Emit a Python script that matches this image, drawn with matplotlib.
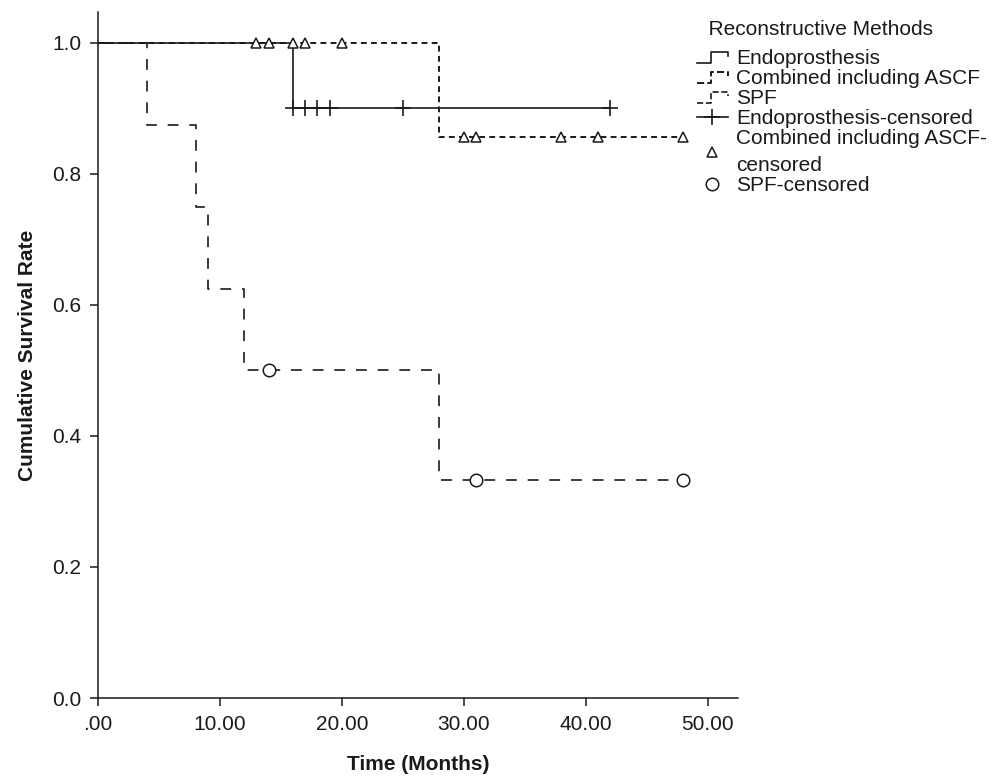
import numpy as np
import matplotlib
matplotlib.use("Agg")
import matplotlib.pyplot as plt
from matplotlib.lines import Line2D
from matplotlib.legend_handler import HandlerBase

plt.rcParams['font.family'] = ['Liberation Sans', 'DejaVu Sans']

# Kaplan-Meier steps
endo_t = [0, 16, 42]
endo_s = [1.0, 0.9, 0.9]
comb_t = [0, 28, 48]
comb_s = [1.0, 0.857, 0.857]
spf_t = [0, 4, 8, 9, 12, 28, 48]
spf_s = [1.0, 0.875, 0.75, 0.625, 0.5, 0.333, 0.333]

# censored observations
endo_cens_t = [16, 17, 18, 19, 25, 42]
endo_cens_s = [0.9, 0.9, 0.9, 0.9, 0.9, 0.9]
comb_cens_t = [13, 14, 16, 17, 20, 30, 31, 38, 41, 48]
comb_cens_s = [1.0, 1.0, 1.0, 1.0, 1.0, 0.857, 0.857, 0.857, 0.857, 0.857]
spf_cens_t = [14, 31, 48]
spf_cens_s = [0.5, 0.333, 0.333]

x_ticks = [0, 10, 20, 30, 40, 50]
x_labels = ['.00', '10.00', '20.00', '30.00', '40.00', '50.00']
y_ticks = [0.0, 0.2, 0.4, 0.6, 0.8, 1.0]

INK = '#1a1a1a'
FS = 15


class StepHandler(HandlerBase):
    # little SPSS-style step symbol in the legend
    def create_artists(self, legend, orig_handle, xdescent, ydescent,
                       width, height, fontsize, trans):
        lo = height * 0.05 - ydescent
        hi = height * 0.85 - ydescent
        xs = np.array([0, 0.45, 0.45, 1.0, 1.0]) * width - xdescent
        ys = np.array([lo, lo, hi, hi, hi - height * 0.3])
        ln = Line2D(xs, ys, color=orig_handle.get_color(),
                    linestyle=orig_handle.get_linestyle(),
                    linewidth=orig_handle.get_linewidth(), transform=trans)
        return [ln]


fig = plt.figure(figsize=(10.07, 7.76), dpi=100)
ax = fig.add_axes([0.0973, 0.1005, 0.6356, 0.884])

h_endo, = ax.step(endo_t, endo_s, where='post', color=INK, lw=1.2, linestyle='-')
h_comb, = ax.step(comb_t, comb_s, where='post', color=INK, lw=1.4, linestyle=(0, (3, 2.2)))
h_spf, = ax.step(spf_t, spf_s, where='post', color=INK, lw=1.2, linestyle=(0, (6.5, 6.5)))

h_endo_c, = ax.plot(endo_cens_t, endo_cens_s, linestyle='none', marker='+',
                    markersize=11, markeredgewidth=1.2, color=INK)
h_comb_c, = ax.plot(comb_cens_t, comb_cens_s, linestyle='none', marker='^',
                    markersize=7, markeredgewidth=1.1, markerfacecolor='white', color=INK)
h_spf_c, = ax.plot(spf_cens_t, spf_cens_s, linestyle='none', marker='o',
                   markersize=9, markeredgewidth=1.1, markerfacecolor='white', color=INK)

ax.set_xlim(0, 52.5)
ax.set_ylim(0, 1.047)
ax.set_xticks(x_ticks)
ax.set_xticklabels(x_labels)
ax.set_yticks(y_ticks)
ax.set_yticklabels([f'{v:.1f}' for v in y_ticks])
ax.tick_params(direction='out', length=6, width=1.1, labelsize=FS, colors=INK, pad=6)
for s in ['top', 'right']:
    ax.spines[s].set_visible(False)
for s in ['left', 'bottom']:
    ax.spines[s].set_linewidth(1.1)
    ax.spines[s].set_color(INK)

ax.set_xlabel('Time (Months)', fontsize=FS, fontweight='bold', color=INK, labelpad=15)
ax.set_ylabel('Cumulative Survival Rate', fontsize=FS, fontweight='bold', color=INK, labelpad=11)

# legend
leg_endo_c = Line2D([], [], color=INK, lw=1.2, marker='+', markersize=11, markeredgewidth=1.2)
handles = [h_endo, h_comb, h_spf, leg_endo_c, h_comb_c, h_spf_c]
labels = ['Endoprosthesis', 'Combined including ASCF', 'SPF', 'Endoprosthesis-censored',
          'Combined including ASCF-\ncensored', 'SPF-censored']
leg = fig.legend(handles, labels, loc='upper left', bbox_to_anchor=(0.692, 0.974),
                 frameon=False, fontsize=FS, title='  Reconstructive Methods',
                 title_fontsize=FS, labelspacing=0.05, handlelength=1.5,
                 handletextpad=0.4, borderpad=0, borderaxespad=0,
                 handler_map={h_endo: StepHandler(), h_comb: StepHandler(), h_spf: StepHandler()})
leg._legend_box.align = 'left'
leg._legend_box.sep = 7
for t in leg.get_texts():
    t.set_color(INK)
leg.get_texts()[4].set_linespacing(1.55)
leg.get_title().set_color(INK)

fig.savefig('out.png', dpi=100)
